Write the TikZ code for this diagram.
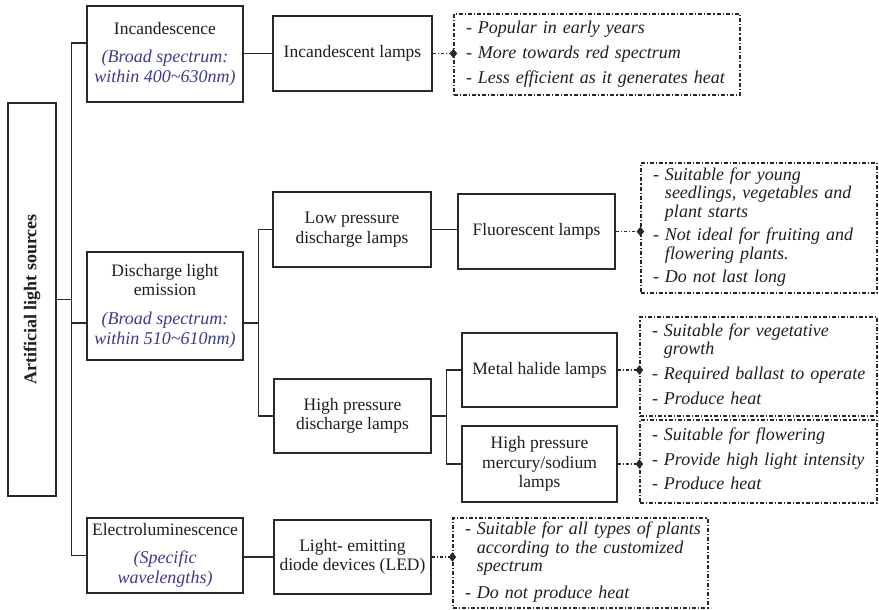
\documentclass[tikz,border=0pt]{standalone}
\usepackage{fontspec}
\setmainfont{Liberation Serif}
\usetikzlibrary{shapes.geometric,calc}
\definecolor{txt}{RGB}{30,30,30}
\definecolor{linec}{RGB}{40,40,40}
\definecolor{bluet}{RGB}{60,60,140}
\newcommand\regf{\fontsize{17.5}{19.5}\selectfont}
\newcommand\bluf{\fontsize{18}{19.5}\selectfont\itshape\color{bluet}}
\newcommand\notef{\fontsize{18}{18.5}\selectfont\itshape}
\begin{document}
\begin{tikzpicture}[x=1pt,y=-1pt,
  box/.style={draw=linec, line width=1.4pt, fill=white, inner sep=2pt, align=center, font=\regf, text=txt},
  note/.style={draw=linec, line width=1.2pt, dash pattern=on 4pt off 2pt on 1.2pt off 2pt, inner xsep=12pt, inner ysep=2pt, font=\notef, text=txt, align=left, text width=#1},
  link/.style={line width=1.4pt, draw=linec},
  dlink/.style={line width=1.2pt, draw=linec, dash pattern=on 3pt off 2pt on 1.2pt off 2pt},
  tip/.style={diamond, fill=linec, draw=none, inner sep=0pt, minimum width=8pt, minimum height=10pt}
]
\path[fill=white,use as bounding box] (0,0) rectangle (879,610);

% first level
\node[box, minimum width=48pt, minimum height=393pt] (root) at (32,299.5)
  {\rotatebox{90}{\fontsize{18}{20}\selectfont\bfseries Artificial light sources}};
\node[box, minimum width=156pt, minimum height=96pt] (inc) at (165,54)
  {Incandescence\\[9pt]{\bluf (Broad spectrum:}\\{\bluf within 400\textasciitilde 630nm)}};
\node[box, minimum width=156pt, minimum height=108pt] (dis) at (165,306)
  {Discharge light\\emission\\[9.5pt]{\bluf (Broad spectrum:}\\{\bluf within 510\textasciitilde 610nm)}};
\node[box, minimum width=156pt, minimum height=75pt] (elec) at (165,555.5)
  {Electroluminescence\\[8.5pt]{\bluf (Specific}\\{\bluf wavelengths)}};

% second level
\node[box, minimum width=159pt, minimum height=75pt] (inclamp) at (352.5,53.5) {Incandescent lamps};
\node[box, minimum width=158pt, minimum height=75pt] (low) at (352,229.5) {Low pressure\\discharge lamps};
\node[box, minimum width=157pt, minimum height=74pt] (high) at (352.5,416) {High pressure\\discharge lamps};
\node[box, minimum width=157pt, minimum height=74pt] (led) at (352.5,557) {Light- emitting\\diode devices (LED)};

% third level
\node[box, minimum width=157pt, minimum height=75pt] (fluor) at (536.5,231.5) {Fluorescent lamps};
\node[box, minimum width=155pt, minimum height=74pt] (metal) at (539.5,370) {Metal halide lamps};
\node[box, minimum width=155pt, minimum height=76pt] (merc) at (539.5,464) {High pressure\\mercury/sodium\\lamps};

% notes
\node[note=262pt, minimum height=81pt] (n1) at (597,54.5) {%
\begin{tabular}{@{}l@{\hspace{6pt}}l@{}}
- & Popular in early years\\[6.5pt]
- & More towards red spectrum\\[6.5pt]
- & Less efficient as it generates heat
\end{tabular}};
\node[note=212pt, minimum height=130pt] (n2) at (759,228) {%
\begin{tabular}{@{}l@{\hspace{6pt}}l@{}}
- & Suitable for young\\
  & seedlings, vegetables and\\
  & plant starts\\[5pt]
- & Not ideal for fruiting and\\
  & flowering plants.\\[5pt]
- & Do not last long
\end{tabular}};
\node[note=213pt, minimum height=99pt] (n3) at (758.5,366.5) {%
\begin{tabular}{@{}l@{\hspace{6pt}}l@{}}
- & Suitable for vegetative\\
  & growth\\[6.5pt]
- & Required ballast to operate\\[6pt]
- & Produce heat
\end{tabular}};
\node[note=213pt, minimum height=83pt] (n4) at (758.5,461.5) {%
\begin{tabular}{@{}l@{\hspace{6pt}}l@{}}
- & Suitable for flowering\\[6pt]
- & Provide high light intensity\\[6pt]
- & Produce heat
\end{tabular}};
\node[note=231pt, minimum height=90pt] (n5) at (580.5,563) {%
\begin{tabular}{@{}l@{\hspace{6pt}}l@{}}
- & Suitable for all types of plants\\
  & according to the customized\\
  & spectrum\\[8pt]
- & Do not produce heat
\end{tabular}};

% trunk connectors
\coordinate (tk) at (71.5,0);
\coordinate (tk2) at (258.5,0);
\coordinate (tk3) at (446.5,0);
\draw[link] ([yshift=11pt]inc.west) -- ([yshift=11pt]inc.west -| tk) -- (elec.west -| tk) -- (elec.west);
\draw[link] ([yshift=-17pt]dis.west) -- ([yshift=-17pt]dis.west -| tk);
\draw[link] (root.east) -- (root.east -| tk);
\draw[link] ([yshift=-17pt]dis.east) -- ([yshift=-17pt]dis.east -| tk2);
\draw[link] (low.west) -- (low.west -| tk2) -- (high.west -| tk2) -- (high.west);
\draw[link] (high.east) -- (high.east -| tk3);
\draw[link] (metal.west) -- (metal.west -| tk3) -- (merc.west -| tk3) -- (merc.west);
\draw[link] (inclamp.west -| inc.east) -- (inclamp.west);
\draw[link] (low.east) -- (low.east -| fluor.west);
\draw[link] (led.west -| elec.east) -- (led.west);

% dotted connectors to notes
\draw[dlink] (inclamp.east) -- (inclamp.east -| n1.west) node[tip] (t1) {};
\draw[dlink] (fluor.east) -- (fluor.east -| n2.west) node[tip] (t2) {};
\draw[dlink] (metal.east) -- (metal.east -| n3.west) node[tip] (t3) {};
\draw[dlink] (merc.east) -- (merc.east -| n4.west) node[tip] (t4) {};
\draw[dlink] (led.east) -- (led.east -| n5.west) node[tip] (t5) {};
\end{tikzpicture}
\end{document}
